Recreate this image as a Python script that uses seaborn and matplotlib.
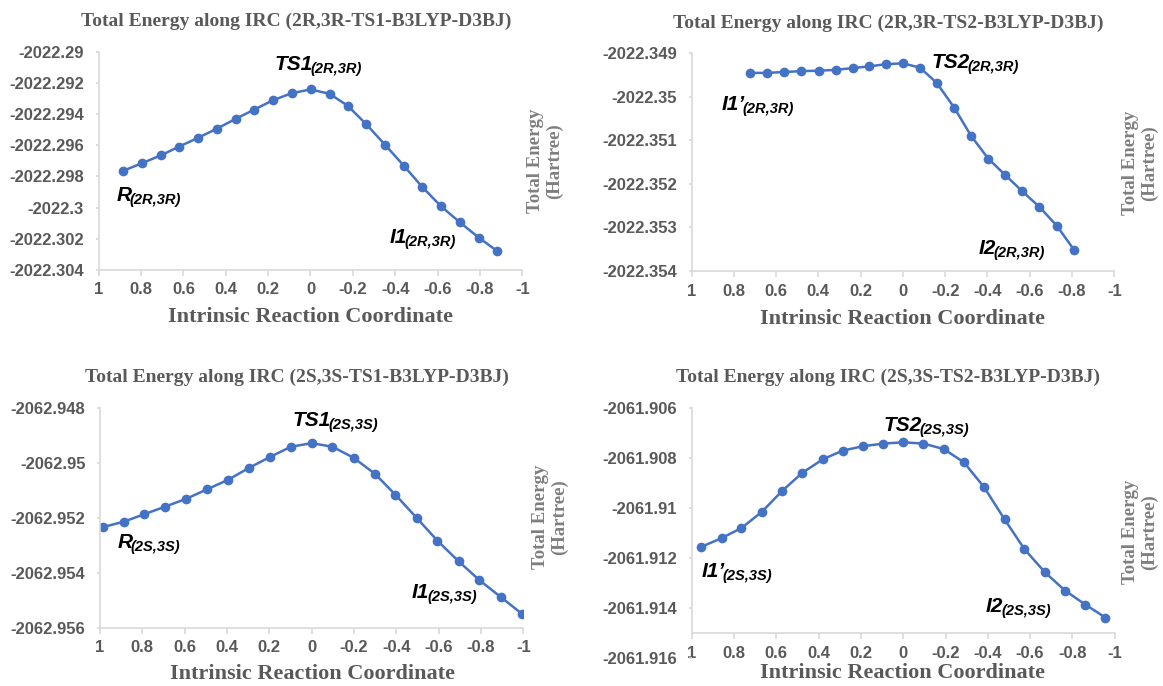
import numpy as np
import pandas as pd
import matplotlib
matplotlib.use("Agg")
import matplotlib.pyplot as plt
from matplotlib.ticker import FuncFormatter, MultipleLocator
import seaborn as sns

sns.set_theme(style="white")
plt.rcParams['font.family'] = ['Liberation Sans', 'DejaVu Sans']

# ---- data ----
irc_rr_ts1 = [0.883, 0.797, 0.707, 0.621, 0.532, 0.441, 0.354, 0.265, 0.177, 0.088, 0.0,
              -0.09, -0.176, -0.263, -0.354, -0.443, -0.528, -0.616, -0.705, -0.794, -0.881]
e_rr_ts1 = [-2022.29763, -2022.29716, -2022.29665, -2022.29609, -2022.29553, -2022.29493,
            -2022.29431, -2022.29371, -2022.29311, -2022.29266, -2022.29242, -2022.29270,
            -2022.29347, -2022.29465, -2022.29600, -2022.29735, -2022.29868, -2022.29991,
            -2022.30094, -2022.30192, -2022.30278]

irc_rr_ts2 = [0.724, 0.642, 0.563, 0.482, 0.399, 0.318, 0.238, 0.159, 0.080, 0.0,
              -0.081, -0.160, -0.243, -0.323, -0.404, -0.485, -0.565, -0.646, -0.728, -0.809]
e_rr_ts2 = [-2022.34945, -2022.34945, -2022.34943, -2022.34941, -2022.34940, -2022.34938,
            -2022.34934, -2022.34930, -2022.34925, -2022.34923, -2022.34933, -2022.34968,
            -2022.35025, -2022.35090, -2022.35142, -2022.35180, -2022.35217, -2022.35253,
            -2022.35296, -2022.35351]

irc_ss_ts1 = [0.988, 0.888, 0.792, 0.692, 0.594, 0.494, 0.394, 0.296, 0.196, 0.098, 0.0,
              -0.098, -0.198, -0.298, -0.396, -0.496, -0.594, -0.694, -0.793, -0.893, -0.993]
e_ss_ts1 = [-2062.95233, -2062.95213, -2062.95186, -2062.95158, -2062.95130, -2062.95095,
            -2062.95060, -2062.95017, -2062.94977, -2062.94940, -2062.94927, -2062.94940,
            -2062.94980, -2062.95038, -2062.95115, -2062.95199, -2062.95282, -2062.95357,
            -2062.95426, -2062.95487, -2062.95548]

irc_ss_ts2 = [0.954, 0.858, 0.765, 0.668, 0.573, 0.477, 0.380, 0.286, 0.191, 0.094, 0.0,
              -0.095, -0.192, -0.287, -0.383, -0.479, -0.573, -0.670, -0.765, -0.861, -0.956]
e_ss_ts2 = [-2061.91154, -2061.91119, -2061.91079, -2061.91014, -2061.90931, -2061.90858,
            -2061.90804, -2061.90769, -2061.90752, -2061.90741, -2061.90736, -2061.90741,
            -2061.90763, -2061.90816, -2061.90916, -2061.91044, -2061.91163, -2061.91256,
            -2061.91329, -2061.91385, -2061.91437]

titles = ["Total Energy along IRC (2R,3R-TS1-B3LYP-D3BJ)",
          "Total Energy along IRC (2R,3R-TS2-B3LYP-D3BJ)",
          "Total Energy along IRC (2S,3S-TS1-B3LYP-D3BJ)",
          "Total Energy along IRC (2S,3S-TS2-B3LYP-D3BJ)"]

W, H = 1163, 686
BLUE = "#4472C4"
GRID = "#D9D9D9"
TXT = "#595959"

fig = plt.figure(figsize=(W / 100, H / 100), dpi=100)
fig.patch.set_facecolor("white")


def fmt_num(v, nd):
    if abs(v) < 1e-9:
        return "0"
    s = f"{v:.{nd}f}".rstrip("0").rstrip(".")
    return s


def panel(box, x, y, ylim, ystep, labels, title, title_xy, xlabel_xy, ylabel_xy, xcross=None):
    l, t, r, b = box
    ax = fig.add_axes([l / W, 1 - b / H, (r - l) / W, (b - t) / H])
    df = pd.DataFrame({"irc": x, "energy": y})
    sns.lineplot(data=df, x="irc", y="energy", ax=ax, color=BLUE, lw=1.8,
                 marker="o", markersize=7, markeredgewidth=0, estimator=None)
    ax.set_xlim(1, -1)
    ax.set_ylim(*ylim)
    ax.xaxis.set_major_locator(MultipleLocator(0.2))
    ax.yaxis.set_major_locator(MultipleLocator(ystep))
    ax.xaxis.set_major_formatter(FuncFormatter(lambda v, p: fmt_num(v, 1)))
    ax.yaxis.set_major_formatter(FuncFormatter(lambda v, p: fmt_num(v, 3)))
    ax.set_xlabel("")
    ax.set_ylabel("")
    for s in ["top", "right"]:
        ax.spines[s].set_visible(False)
    for s in ["left", "bottom"]:
        ax.spines[s].set_color(GRID)
        ax.spines[s].set_linewidth(1.2)
    if xcross is not None:
        ax.spines["bottom"].set_position(("data", xcross))
        ax.spines["left"].set_bounds(xcross, ylim[1])
    ax.tick_params(axis="x", direction="out", length=4, width=1.2, color=GRID,
                   labelsize=12, labelcolor=TXT, pad=5, bottom=True)
    ax.tick_params(axis="y", direction="out", length=2.5, width=1.2, color=GRID,
                   labelsize=12, labelcolor=TXT, pad=8, left=True)
    for lab in ax.get_xticklabels() + ax.get_yticklabels():
        lab.set_fontweight("bold")
    ax.set_facecolor("none")

    for main, sub, px, py in labels:
        t1 = ax.text(px, py, main, fontsize=15, fontweight="bold", fontstyle="italic",
                     color="black", ha="left", va="baseline")
        ax.annotate(sub, xy=(1, 0), xycoords=t1, xytext=(-1.5, 0.5), textcoords="offset points",
                    fontsize=10.5, fontweight="bold", fontstyle="italic",
                    color="black", ha="left", va="baseline")

    fig.text(title_xy[0] / W, 1 - title_xy[1] / H, title, family="Liberation Serif",
             fontweight="bold", fontsize=14, color=TXT, ha="center", va="center")
    fig.text(xlabel_xy[0] / W, 1 - xlabel_xy[1] / H, "Intrinsic Reaction Coordinate",
             family="Liberation Serif", fontweight="bold", fontsize=16, color=TXT,
             ha="center", va="center")
    fig.text(ylabel_xy[0] / W, 1 - ylabel_xy[1] / H, "Total Energy\n(Hartree)",
             family="Liberation Serif", fontweight="bold", fontsize=13.5, color="#7F7F7F",
             ha="center", va="center", rotation=90, linespacing=1.1)
    return ax


panel((98.7, 51.7, 522.3, 270.0), irc_rr_ts1, e_rr_ts1, (-2022.304, -2022.29), 0.002,
      [("R", "(2R,3R)", 0.914, -2022.29957),
       ("TS1", "(2R,3R)", 0.172, -2022.29117),
       ("I1", "(2R,3R)", -0.372, -2022.30226)],
      titles[0], (296, 21), (310, 317), (545, 161))

panel((691.5, 53.3, 1114.3, 271.0), irc_rr_ts2, e_rr_ts2, (-2022.354, -2022.349), 0.001,
      [("I1\u2019", "(2R,3R)", 0.857, -2022.3503),
       ("TS2", "(2R,3R)", -0.133, -2022.34934),
       ("I2", "(2R,3R)", -0.357, -2022.3536)],
      titles[1], (888, 23), (902, 319), (1140, 163))

panel((100.0, 408.3, 523.3, 628.0), irc_ss_ts1, e_ss_ts1, (-2062.956, -2062.948), 0.002,
      [("R", "(2S,3S)", 0.919, -2062.95308),
       ("TS1", "(2S,3S)", 0.092, -2062.94864),
       ("I1", "(2S,3S)", -0.473, -2062.95491)],
      titles[2], (297, 377), (312, 674), (550, 517))

panel((691.7, 408.3, 1114.7, 658.3), irc_ss_ts2, e_ss_ts2, (-2061.916, -2061.906), 0.002,
      [("I1\u2019", "(2S,3S)", 0.953, -2061.91274),
       ("TS2", "(2S,3S)", 0.093, -2061.9069),
       ("I2", "(2S,3S)", -0.391, -2061.91414)],
      titles[3], (888, 377), (902, 673), (1140, 532), xcross=-2061.915)

fig.savefig("out.png", dpi=100, facecolor="white")
